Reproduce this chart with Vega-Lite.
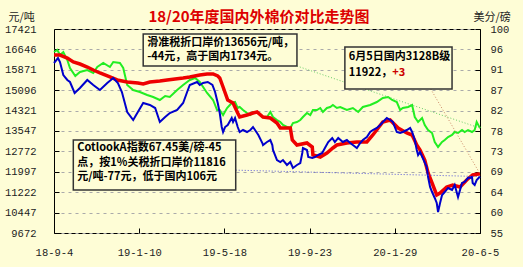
{
  "$schema": "https://vega.github.io/schema/vega-lite/v6.json",
  "width": 426,
  "height": 204,
  "autosize": "none",
  "padding": {"left": 54, "top": 29, "right": 43, "bottom": 34},
  "background": "#FEFDD6",
  "title": {"text": "18/20年度国内外棉价对比走势图", "color": "#DD0000", "fontSize": 15, "fontWeight": "bold", "font": "Noto Sans CJK SC", "anchor": "middle", "frame": "group", "offset": -14, "dx": -8},
  "config": {
    "view": {"stroke": "#000000", "strokeWidth": 1, "fill": "#FEFDD6"},
    "axis": {"labelFont": "Liberation Mono", "labelFontSize": 10.5, "labelColor": "#222222", "tickColor": "#000000", "titleFont": "Noto Sans CJK SC", "titleFontSize": 11, "titleFontWeight": "normal", "titleColor": "#222222"}
  },
  "datasets": {
    "dom": [
      {"date": "2018-09-04", "v": 16433}, {"date": "2018-09-13", "v": 16433}, {"date": "2018-09-24", "v": 16319}, {"date": "2018-10-03", "v": 16167},
      {"date": "2018-10-13", "v": 16091}, {"date": "2018-10-24", "v": 15977}, {"date": "2018-11-02", "v": 15864}, {"date": "2018-11-12", "v": 15750},
      {"date": "2018-11-27", "v": 15598}, {"date": "2018-12-08", "v": 15484}, {"date": "2018-12-23", "v": 15408}, {"date": "2019-01-08", "v": 15370},
      {"date": "2019-01-16", "v": 15332}, {"date": "2019-01-26", "v": 15408}, {"date": "2019-02-10", "v": 15446}, {"date": "2019-02-21", "v": 15484},
      {"date": "2019-03-05", "v": 15522}, {"date": "2019-03-17", "v": 15560}, {"date": "2019-03-27", "v": 15598}, {"date": "2019-04-11", "v": 15674},
      {"date": "2019-04-22", "v": 15712}, {"date": "2019-05-01", "v": 15712}, {"date": "2019-05-08", "v": 15636}, {"date": "2019-05-11", "v": 15560},
      {"date": "2019-05-16", "v": 15218}, {"date": "2019-05-23", "v": 14724}, {"date": "2019-05-31", "v": 14610}, {"date": "2019-06-07", "v": 14230},
      {"date": "2019-06-10", "v": 14078}, {"date": "2019-06-21", "v": 14154}, {"date": "2019-06-30", "v": 14230}, {"date": "2019-07-06", "v": 14268},
      {"date": "2019-07-15", "v": 14078}, {"date": "2019-07-26", "v": 14040}, {"date": "2019-08-05", "v": 13850}, {"date": "2019-08-10", "v": 13660},
      {"date": "2019-08-25", "v": 13660}, {"date": "2019-08-28", "v": 13205}, {"date": "2019-09-04", "v": 13015}, {"date": "2019-09-19", "v": 13091},
      {"date": "2019-09-27", "v": 12939}, {"date": "2019-09-28", "v": 12635}, {"date": "2019-10-09", "v": 12559}, {"date": "2019-10-19", "v": 12711},
      {"date": "2019-10-28", "v": 12901}, {"date": "2019-11-03", "v": 13015}, {"date": "2019-11-18", "v": 13091}, {"date": "2019-12-03", "v": 13129},
      {"date": "2019-12-18", "v": 13129}, {"date": "2019-12-27", "v": 13395}, {"date": "2020-01-11", "v": 13888}, {"date": "2020-01-22", "v": 13964},
      {"date": "2020-02-03", "v": 13660}, {"date": "2020-02-16", "v": 13471}, {"date": "2020-02-24", "v": 13395}, {"date": "2020-03-02", "v": 13015},
      {"date": "2020-03-07", "v": 12825}, {"date": "2020-03-14", "v": 12445}, {"date": "2020-03-19", "v": 11951}, {"date": "2020-03-25", "v": 11571},
      {"date": "2020-04-01", "v": 11115}, {"date": "2020-04-06", "v": 11191}, {"date": "2020-04-16", "v": 11419}, {"date": "2020-04-25", "v": 11495},
      {"date": "2020-05-06", "v": 11419}, {"date": "2020-05-16", "v": 11685}, {"date": "2020-05-25", "v": 11875}, {"date": "2020-06-05", "v": 11922}
    ],
    "slide": [
      {"date": "2018-09-04", "v": 16547}, {"date": "2018-09-09", "v": 16623}, {"date": "2018-09-13", "v": 16433}, {"date": "2018-09-18", "v": 16547},
      {"date": "2018-09-24", "v": 16243}, {"date": "2018-09-28", "v": 15940}, {"date": "2018-10-06", "v": 15636}, {"date": "2018-10-13", "v": 15788},
      {"date": "2018-10-24", "v": 15864}, {"date": "2018-11-02", "v": 15750}, {"date": "2018-11-08", "v": 15977}, {"date": "2018-11-17", "v": 16129},
      {"date": "2018-11-27", "v": 15977}, {"date": "2018-12-02", "v": 16167}, {"date": "2018-12-12", "v": 16129}, {"date": "2018-12-17", "v": 15940},
      {"date": "2018-12-23", "v": 15294}, {"date": "2019-01-01", "v": 15104}, {"date": "2019-01-11", "v": 15028}, {"date": "2019-01-22", "v": 14914},
      {"date": "2019-01-31", "v": 14838}, {"date": "2019-02-10", "v": 14724}, {"date": "2019-02-18", "v": 14876}, {"date": "2019-02-25", "v": 14838},
      {"date": "2019-03-08", "v": 15104}, {"date": "2019-03-17", "v": 15294}, {"date": "2019-03-27", "v": 15484}, {"date": "2019-04-04", "v": 15560},
      {"date": "2019-04-11", "v": 15408}, {"date": "2019-04-22", "v": 14990}, {"date": "2019-05-01", "v": 14724}, {"date": "2019-05-07", "v": 14344},
      {"date": "2019-05-11", "v": 14344}, {"date": "2019-05-16", "v": 14154}, {"date": "2019-05-22", "v": 14420}, {"date": "2019-05-29", "v": 14610},
      {"date": "2019-06-03", "v": 14648}, {"date": "2019-06-07", "v": 14420}, {"date": "2019-06-10", "v": 14458}, {"date": "2019-06-15", "v": 14344},
      {"date": "2019-06-21", "v": 14230}, {"date": "2019-06-26", "v": 14154}, {"date": "2019-06-30", "v": 14268}, {"date": "2019-07-08", "v": 14230},
      {"date": "2019-07-14", "v": 14078}, {"date": "2019-07-21", "v": 14078}, {"date": "2019-07-26", "v": 14268}, {"date": "2019-07-30", "v": 14078},
      {"date": "2019-08-05", "v": 13964}, {"date": "2019-08-10", "v": 13888}, {"date": "2019-08-14", "v": 13774}, {"date": "2019-08-20", "v": 13698},
      {"date": "2019-08-25", "v": 13660}, {"date": "2019-08-29", "v": 13850}, {"date": "2019-09-04", "v": 13888}, {"date": "2019-09-09", "v": 13964},
      {"date": "2019-09-13", "v": 14078}, {"date": "2019-09-19", "v": 14230}, {"date": "2019-09-24", "v": 14154}, {"date": "2019-09-28", "v": 14344},
      {"date": "2019-10-04", "v": 14344}, {"date": "2019-10-09", "v": 14420}, {"date": "2019-10-13", "v": 14268}, {"date": "2019-10-19", "v": 14420},
      {"date": "2019-10-24", "v": 14458}, {"date": "2019-10-28", "v": 14534}, {"date": "2019-11-03", "v": 14420}, {"date": "2019-11-08", "v": 14458},
      {"date": "2019-11-18", "v": 14344}, {"date": "2019-11-27", "v": 14420}, {"date": "2019-12-05", "v": 14268}, {"date": "2019-12-12", "v": 14458},
      {"date": "2019-12-23", "v": 14534}, {"date": "2020-01-02", "v": 14648}, {"date": "2020-01-11", "v": 14800}, {"date": "2020-01-19", "v": 14838},
      {"date": "2020-01-25", "v": 14724}, {"date": "2020-02-01", "v": 14648}, {"date": "2020-02-06", "v": 14344}, {"date": "2020-02-10", "v": 14420},
      {"date": "2020-02-18", "v": 14458}, {"date": "2020-02-24", "v": 14534}, {"date": "2020-02-28", "v": 14078}, {"date": "2020-03-04", "v": 13888},
      {"date": "2020-03-10", "v": 14040}, {"date": "2020-03-14", "v": 13774}, {"date": "2020-03-19", "v": 13584}, {"date": "2020-03-25", "v": 13471},
      {"date": "2020-03-29", "v": 13129}, {"date": "2020-04-03", "v": 12939}, {"date": "2020-04-09", "v": 13129}, {"date": "2020-04-13", "v": 13205},
      {"date": "2020-04-18", "v": 13319}, {"date": "2020-04-24", "v": 13395}, {"date": "2020-04-28", "v": 13509}, {"date": "2020-05-03", "v": 13471},
      {"date": "2020-05-09", "v": 13584}, {"date": "2020-05-13", "v": 13509}, {"date": "2020-05-18", "v": 13584}, {"date": "2020-05-24", "v": 13509},
      {"date": "2020-05-28", "v": 13584}, {"date": "2020-05-31", "v": 13888}, {"date": "2020-06-05", "v": 13656}
    ],
    "cot": [
      {"date": "2018-09-04", "c": 92.50}, {"date": "2018-09-10", "c": 93.60}, {"date": "2018-09-13", "c": 92.72}, {"date": "2018-09-18", "c": 89.85},
      {"date": "2018-09-24", "c": 88.75}, {"date": "2018-09-28", "c": 88.31}, {"date": "2018-10-05", "c": 85.88}, {"date": "2018-10-13", "c": 86.99},
      {"date": "2018-10-24", "c": 88.75}, {"date": "2018-11-02", "c": 87.65}, {"date": "2018-11-12", "c": 86.54}, {"date": "2018-11-23", "c": 88.09},
      {"date": "2018-12-02", "c": 89.19}, {"date": "2018-12-09", "c": 88.09}, {"date": "2018-12-15", "c": 86.10}, {"date": "2018-12-23", "c": 81.69},
      {"date": "2019-01-01", "c": 79.93}, {"date": "2019-01-08", "c": 81.69}, {"date": "2019-01-16", "c": 83.68}, {"date": "2019-01-26", "c": 83.24},
      {"date": "2019-02-03", "c": 82.57}, {"date": "2019-02-10", "c": 79.49}, {"date": "2019-02-18", "c": 80.59}, {"date": "2019-02-25", "c": 81.47},
      {"date": "2019-03-08", "c": 82.13}, {"date": "2019-03-17", "c": 83.68}, {"date": "2019-03-23", "c": 86.10}, {"date": "2019-03-27", "c": 87.65},
      {"date": "2019-04-07", "c": 88.31}, {"date": "2019-04-11", "c": 87.65}, {"date": "2019-04-16", "c": 88.09}, {"date": "2019-04-23", "c": 88.31},
      {"date": "2019-04-30", "c": 87.65}, {"date": "2019-05-04", "c": 86.10}, {"date": "2019-05-08", "c": 83.68}, {"date": "2019-05-11", "c": 81.47},
      {"date": "2019-05-14", "c": 78.38}, {"date": "2019-05-16", "c": 77.28}, {"date": "2019-05-19", "c": 78.38}, {"date": "2019-05-23", "c": 78.82},
      {"date": "2019-05-29", "c": 80.37}, {"date": "2019-05-31", "c": 79.49}, {"date": "2019-06-03", "c": 80.37}, {"date": "2019-06-07", "c": 78.38},
      {"date": "2019-06-10", "c": 77.28}, {"date": "2019-06-15", "c": 77.72}, {"date": "2019-06-21", "c": 77.28}, {"date": "2019-06-26", "c": 77.72},
      {"date": "2019-06-30", "c": 78.38}, {"date": "2019-07-03", "c": 77.72}, {"date": "2019-07-08", "c": 76.62}, {"date": "2019-07-14", "c": 74.85},
      {"date": "2019-07-15", "c": 74.41}, {"date": "2019-07-21", "c": 75.07}, {"date": "2019-07-26", "c": 75.51}, {"date": "2019-07-29", "c": 74.41},
      {"date": "2019-07-30", "c": 73.31}, {"date": "2019-08-05", "c": 71.10}, {"date": "2019-08-10", "c": 70.66}, {"date": "2019-08-14", "c": 71.10},
      {"date": "2019-08-20", "c": 70.00}, {"date": "2019-08-25", "c": 70.66}, {"date": "2019-08-29", "c": 69.34}, {"date": "2019-09-04", "c": 70.00},
      {"date": "2019-09-09", "c": 70.44}, {"date": "2019-09-12", "c": 72.65}, {"date": "2019-09-13", "c": 73.75}, {"date": "2019-09-19", "c": 73.31},
      {"date": "2019-09-21", "c": 71.76}, {"date": "2019-09-27", "c": 71.54}, {"date": "2019-10-01", "c": 71.76}, {"date": "2019-10-06", "c": 72.21},
      {"date": "2019-10-12", "c": 72.65}, {"date": "2019-10-16", "c": 73.75}, {"date": "2019-10-21", "c": 75.07}, {"date": "2019-10-27", "c": 75.96},
      {"date": "2019-10-31", "c": 75.07}, {"date": "2019-11-05", "c": 75.96}, {"date": "2019-11-12", "c": 75.07}, {"date": "2019-11-18", "c": 75.51},
      {"date": "2019-11-23", "c": 74.85}, {"date": "2019-11-27", "c": 74.41}, {"date": "2019-12-03", "c": 73.75}, {"date": "2019-12-08", "c": 74.85},
      {"date": "2019-12-12", "c": 75.51}, {"date": "2019-12-18", "c": 76.18}, {"date": "2019-12-23", "c": 77.28}, {"date": "2019-12-27", "c": 77.72},
      {"date": "2020-01-02", "c": 78.16}, {"date": "2020-01-07", "c": 78.82}, {"date": "2020-01-11", "c": 79.49}, {"date": "2020-01-17", "c": 80.37},
      {"date": "2020-01-22", "c": 79.93}, {"date": "2020-01-26", "c": 79.49}, {"date": "2020-02-01", "c": 77.28}, {"date": "2020-02-06", "c": 77.06},
      {"date": "2020-02-10", "c": 77.28}, {"date": "2020-02-16", "c": 77.72}, {"date": "2020-02-21", "c": 78.16}, {"date": "2020-02-24", "c": 77.28},
      {"date": "2020-02-28", "c": 75.51}, {"date": "2020-03-02", "c": 73.31}, {"date": "2020-03-04", "c": 72.21}, {"date": "2020-03-07", "c": 72.87},
      {"date": "2020-03-11", "c": 71.54}, {"date": "2020-03-17", "c": 69.56}, {"date": "2020-03-19", "c": 67.35}, {"date": "2020-03-22", "c": 65.15},
      {"date": "2020-03-25", "c": 64.04}, {"date": "2020-03-29", "c": 62.72}, {"date": "2020-04-01", "c": 61.62}, {"date": "2020-04-03", "c": 59.63},
      {"date": "2020-04-06", "c": 61.62}, {"date": "2020-04-09", "c": 63.38}, {"date": "2020-04-13", "c": 64.04}, {"date": "2020-04-18", "c": 64.93},
      {"date": "2020-04-24", "c": 64.49}, {"date": "2020-04-28", "c": 65.59}, {"date": "2020-05-03", "c": 62.94}, {"date": "2020-05-09", "c": 66.03},
      {"date": "2020-05-13", "c": 66.25}, {"date": "2020-05-18", "c": 67.13}, {"date": "2020-05-24", "c": 67.35}, {"date": "2020-05-25", "c": 66.03},
      {"date": "2020-05-28", "c": 65.59}, {"date": "2020-05-31", "c": 66.69}, {"date": "2020-06-05", "c": 67.45}
    ],
    "pointers": [
      {"date": "2019-06-04", "date2": "2020-06-05", "v": 12060, "v2": 11816, "c": "#5555DD"},
      {"date": "2019-09-04", "date2": "2020-06-05", "v": 16016, "v2": 13656, "c": "#66CC66"},
      {"date": "2020-03-23", "date2": "2020-06-05", "v": 15142, "v2": 11922, "c": "#CC8866"}
    ],
    "boxes": [
      {"date": "2019-01-16", "date2": "2019-09-04", "v": 17231, "v2": 16016},
      {"date": "2019-11-15", "date2": "2020-04-24", "v": 16737, "v2": 15142},
      {"date": "2018-10-03", "date2": "2019-06-04", "v": 13205, "v2": 11305}
    ],
    "notes": [
      {"date": "2019-01-22", "v": 16889, "text": "滑准税折口岸价13656元/吨，", "c": "#000000"},
      {"date": "2019-01-22", "v": 16357, "text": "-44元，高于国内1734元。", "c": "#000000"},
      {"date": "2019-11-21", "v": 16357, "text": "6月5日国内3128B级", "c": "#000000"},
      {"date": "2019-11-21", "v": 15750, "text": "11922，", "c": "#000000"},
      {"date": "2020-01-25", "v": 15750, "text": "+3", "c": "#CC0000"},
      {"date": "2018-10-09", "v": 12901, "text": "CotlookA指数67.45美/磅-45", "c": "#000000"},
      {"date": "2018-10-09", "v": 12331, "text": "点，按1%关税折口岸价11816", "c": "#000000"},
      {"date": "2018-10-09", "v": 11799, "text": "元/吨-77元，低于国内106元", "c": "#000000"}
    ]
  },
  "encoding": {
    "x": {
      "field": "date", "type": "temporal",
      "scale": {"type": "utc", "domain": [{"year": 2018, "month": 9, "date": 4, "utc": true}, {"year": 2020, "month": 6, "date": 5, "utc": true}]},
      "axis": {
        "values": [
          {"year": 2018, "month": 9, "date": 4, "utc": true}, {"year": 2019, "month": 1, "date": 10, "utc": true},
          {"year": 2019, "month": 5, "date": 18, "utc": true}, {"year": 2019, "month": 9, "date": 23, "utc": true},
          {"year": 2020, "month": 1, "date": 29, "utc": true}, {"year": 2020, "month": 6, "date": 5, "utc": true}
        ],
        "format": "%y-%-m-%-d", "title": null, "grid": false, "domain": false, "tickSize": -5, "labelPadding": 19,
        "labelFlush": false, "labelOverlap": false
      }
    }
  },
  "layer": [
    {
      "data": {"name": "slide"},
      "mark": {"type": "line", "color": "#22EE22", "strokeWidth": 2},
      "encoding": {
        "y": {"field": "v", "type": "quantitative", "scale": {"domain": [9672, 17421], "nice": false, "zero": false},
          "axis": {"values": [9672, 10447, 11222, 11997, 12772, 13547, 14321, 15096, 15871, 16646, 17421], "format": "d", "grid": true, "gridDash": [3, 4], "gridColor": "#AAAAAA",
            "domain": false, "tickSize": -5, "labelPadding": 23, "title": "元/吨", "titleAngle": 0, "titleX": -46, "titleY": -12, "titleAlign": "left", "titleBaseline": "middle"}}
      }
    },
    {
      "data": {"name": "dom"},
      "mark": {"type": "line", "color": "#EE0000", "strokeWidth": 3.5},
      "encoding": {"y": {"field": "v", "type": "quantitative", "scale": {"domain": [9672, 17421], "nice": false, "zero": false}, "axis": null}}
    },
    {
      "data": {"name": "cot"},
      "mark": {"type": "line", "color": "#0000CC", "strokeWidth": 2},
      "encoding": {
        "y": {"field": "c", "type": "quantitative", "scale": {"domain": [55, 100], "nice": false, "zero": false},
          "axis": {"orient": "right", "values": [55, 59.5, 64, 68.5, 73, 77.5, 82, 86.5, 91, 95.5, 100], "format": ".0f", "grid": false,
            "domain": false, "tickSize": -5, "labelPadding": 15, "title": "美分/磅", "titleAngle": 0, "titleX": -7, "titleY": -12, "titleAlign": "left", "titleBaseline": "middle"}}
      }
    },
    {
      "data": {"name": "pointers"},
      "mark": {"type": "rule", "strokeWidth": 1, "strokeDash": [1, 2]},
      "encoding": {
        "x2": {"field": "date2"},
        "y": {"field": "v", "type": "quantitative", "scale": {"domain": [9672, 17421], "nice": false, "zero": false}, "axis": null},
        "y2": {"field": "v2"},
        "color": {"field": "c", "type": "nominal", "scale": null}
      }
    },
    {
      "data": {"name": "boxes"},
      "mark": {"type": "rect", "fill": "#FEFDD6", "stroke": "#333333", "strokeWidth": 1.5},
      "encoding": {
        "x2": {"field": "date2"},
        "y": {"field": "v", "type": "quantitative", "scale": {"domain": [9672, 17421], "nice": false, "zero": false}, "axis": null},
        "y2": {"field": "v2"}
      }
    },
    {
      "data": {"name": "notes"},
      "mark": {"type": "text", "align": "left", "baseline": "middle", "font": "Noto Sans CJK SC", "fontSize": 11, "fontWeight": "bold"},
      "encoding": {
        "y": {"field": "v", "type": "quantitative", "scale": {"domain": [9672, 17421], "nice": false, "zero": false}, "axis": null},
        "text": {"field": "text"},
        "color": {"field": "c", "type": "nominal", "scale": null}
      }
    }
  ],
  "resolve": {"scale": {"y": "independent"}}
}
